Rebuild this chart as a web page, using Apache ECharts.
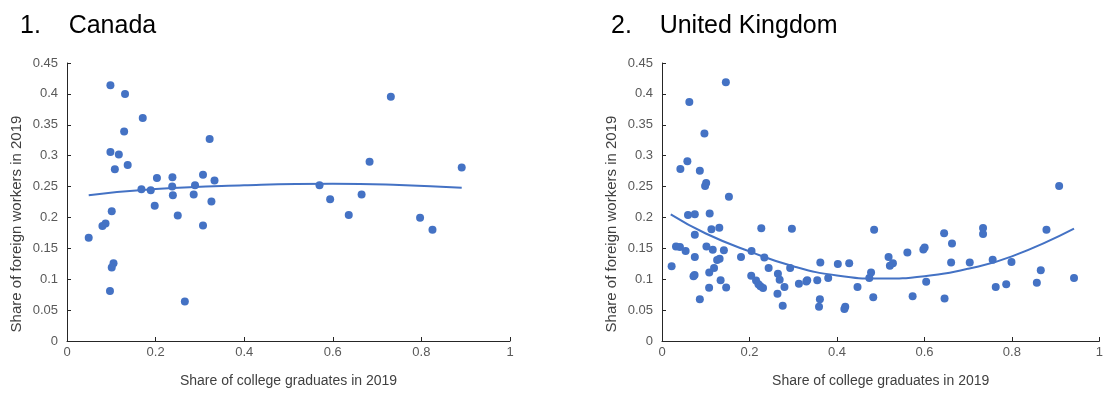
<!DOCTYPE html>
<html>
<head>
<meta charset="utf-8">
<script src="https://cdn.jsdelivr.net/npm/echarts@6/dist/echarts.min.js"></script>
<style>
  html, body { margin: 0; padding: 0; background: #fff; }
  #chart { width: 1106px; height: 393px; }
</style>
</head>
<body>
<div id="chart"></div>
<script>
// Canada: share of college graduates (x) vs share of foreign workers (y)
const canadaX = [0.098, 0.131, 0.171, 0.129, 0.322, 0.098, 0.117, 0.108, 0.137, 0.203,
  0.238, 0.307, 0.333, 0.2375, 0.289, 0.168, 0.189, 0.239, 0.286, 0.326,
  0.198, 0.250, 0.307, 0.101, 0.087, 0.080, 0.049, 0.105, 0.101, 0.097,
  0.266, 0.731, 0.683, 0.891, 0.570, 0.594, 0.665, 0.636, 0.797, 0.825];
const canadaY = [0.414, 0.400, 0.361, 0.339, 0.327, 0.306, 0.302, 0.278, 0.285, 0.264,
  0.265, 0.269, 0.260, 0.250, 0.252, 0.2455, 0.244, 0.236, 0.237, 0.226,
  0.219, 0.203, 0.187, 0.210, 0.190, 0.186, 0.167, 0.126, 0.119, 0.081,
  0.064, 0.3955, 0.290, 0.281, 0.252, 0.2295, 0.237, 0.204, 0.1995, 0.180];
const canadaTrendX = [0.049, 0.2, 0.4, 0.6, 0.75, 0.891];
const canadaTrendY = [0.236, 0.246, 0.252, 0.2545, 0.2525, 0.248];

// United Kingdom
const ukX = [0.146, 0.0625, 0.097, 0.058, 0.042, 0.0865, 0.101, 0.0985, 0.153, 0.0594,
  0.075, 0.109, 0.131, 0.113, 0.227, 0.297, 0.075, 0.032, 0.041, 0.054,
  0.1016, 0.116, 0.1415, 0.2047, 0.075, 0.1806, 0.234, 0.1317, 0.126, 0.022,
  0.119, 0.2438, 0.293, 0.362, 0.402, 0.428, 0.108, 0.0745, 0.072, 0.204,
  0.265, 0.269, 0.215, 0.2205, 0.225, 0.231, 0.134, 0.332, 0.330, 0.355,
  0.38, 0.313, 0.28, 0.1467, 0.1077, 0.264, 0.0865, 0.361, 0.276, 0.359,
  0.417, 0.419, 0.447, 0.485, 0.478, 0.474, 0.483, 0.518, 0.521, 0.528,
  0.561, 0.573, 0.5975, 0.6005, 0.604, 0.645, 0.663, 0.661, 0.646, 0.7036,
  0.734, 0.734, 0.756, 0.763, 0.787, 0.799, 0.857, 0.866, 0.879, 0.908, 0.942];
const ukY = [0.419, 0.387, 0.336, 0.291, 0.2785, 0.2755, 0.2556, 0.251, 0.2337, 0.204,
  0.205, 0.2065, 0.1835, 0.181, 0.1825, 0.1815, 0.172, 0.153, 0.152, 0.1455,
  0.153, 0.1477, 0.147, 0.1455, 0.136, 0.136, 0.135, 0.1333, 0.131, 0.121,
  0.1183, 0.118, 0.118, 0.127, 0.1247, 0.1258, 0.111, 0.107, 0.105, 0.1055,
  0.1087, 0.099, 0.098, 0.092, 0.0885, 0.0857, 0.0985, 0.0985, 0.0965, 0.0985,
  0.1018, 0.0927, 0.0873, 0.0868, 0.0862, 0.0766, 0.0676, 0.0676, 0.0569, 0.0553,
  0.052, 0.0553, 0.0873, 0.180, 0.111, 0.102, 0.0708, 0.136, 0.122, 0.126,
  0.1434, 0.0724, 0.148, 0.1514, 0.0958, 0.1744, 0.158, 0.127, 0.0686, 0.127,
  0.183, 0.1734, 0.1317, 0.0873, 0.092, 0.128, 0.0943, 0.1146, 0.180, 0.251, 0.1018];
const ukTrendX = [0.02, 0.1, 0.2, 0.3, 0.4, 0.5, 0.6, 0.7, 0.8, 0.942];
const ukTrendY = [0.205, 0.174, 0.145, 0.121, 0.106, 0.101, 0.105, 0.117, 0.137, 0.182];

const titles = ['1.    Canada', '2.    United Kingdom'];
const xName = 'Share of college graduates in 2019';
const yName = 'Share of foreign workers in 2019';

const BLUE = '#4472C4';
const FONT = '"Liberation Sans", Arial, sans-serif';

const pair = (xs, ys) => xs.map((x, i) => [x, ys[i]]);

function xAxisFor(idx) {
  return {
    gridIndex: idx, type: 'value', min: 0, max: 1, interval: 0.2,
    name: xName, nameLocation: 'middle', nameGap: 33,
    nameTextStyle: { fontFamily: FONT, fontSize: 14, color: '#404040' },
    axisLine: { show: true, lineStyle: { color: '#262626', width: 1 } },
    axisTick: { show: true, inside: true, length: 4, lineStyle: { color: '#262626' } },
    axisLabel: { fontFamily: FONT, fontSize: 13, color: '#595959', margin: 5 },
    splitLine: { show: false }
  };
}
function yAxisFor(idx) {
  return {
    gridIndex: idx, type: 'value', min: 0, max: 0.45, interval: 0.05,
    name: yName, nameLocation: 'middle', nameGap: 43,
    nameTextStyle: { fontFamily: FONT, fontSize: 15, color: '#404040', padding: [0, 44, 0, 0] },
    axisLine: { show: true, lineStyle: { color: '#262626', width: 1 } },
    axisTick: { show: true, inside: true, length: 4, lineStyle: { color: '#262626' } },
    axisLabel: {
      fontFamily: FONT, fontSize: 13, color: '#595959', margin: 9,
      formatter: v => String(+v.toFixed(2))
    },
    splitLine: { show: false }
  };
}

const chart = echarts.init(document.getElementById('chart'));
chart.setOption({
  animation: false,
  backgroundColor: '#fff',
  title: [
    { text: titles[0], left: 20, top: 14, padding: 0,
      textStyle: { fontFamily: FONT, fontSize: 25, fontWeight: 'normal', color: '#000' } },
    { text: titles[1], left: 611, top: 14, padding: 0,
      textStyle: { fontFamily: FONT, fontSize: 25, fontWeight: 'normal', color: '#000' } }
  ],
  grid: [
    { left: 67, width: 443, top: 63, height: 281 },
    { left: 662, width: 443, top: 63, height: 281 }
  ],
  xAxis: [xAxisFor(0), xAxisFor(1)],
  yAxis: [yAxisFor(0), yAxisFor(1)],
  series: [
    { type: 'scatter', xAxisIndex: 0, yAxisIndex: 0, data: pair(canadaX, canadaY),
      symbolSize: 8, itemStyle: { color: BLUE, opacity: 1 } },
    { type: 'line', xAxisIndex: 0, yAxisIndex: 0, data: pair(canadaTrendX, canadaTrendY),
      smooth: true, showSymbol: false, lineStyle: { color: BLUE, width: 2 } },
    { type: 'scatter', xAxisIndex: 1, yAxisIndex: 1, data: pair(ukX, ukY),
      symbolSize: 8, itemStyle: { color: BLUE, opacity: 1 } },
    { type: 'line', xAxisIndex: 1, yAxisIndex: 1, data: pair(ukTrendX, ukTrendY),
      smooth: true, showSymbol: false, lineStyle: { color: BLUE, width: 2 } }
  ]
});
</script>
</body>
</html>
